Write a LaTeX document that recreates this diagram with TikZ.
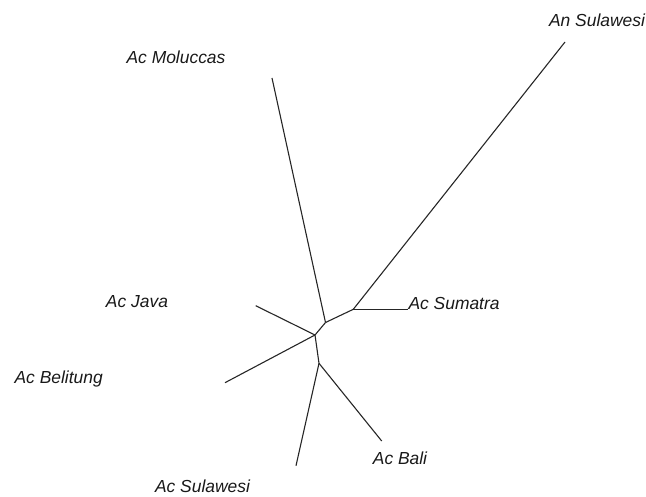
\documentclass[tikz,border=0pt]{standalone}
\usepackage{fontspec}
\setmainfont{Liberation Sans}
\begin{document}
\begin{tikzpicture}[x=1bp,y=-1bp,
  branch/.style={line width=1.1bp, draw=black!85},
  taxon/.style={font=\fontsize{17.5}{20}\selectfont\itshape, inner sep=0pt, text=black!90}]
\useasboundingbox (0,0) rectangle (646,497);
% internal nodes of the unrooted tree
\coordinate (nA) at (325.5,322.5);
\coordinate (nB) at (353.3,309.3);
\coordinate (nC) at (315,335);
\coordinate (nD) at (319,363.3);
% leaf tips
\coordinate (tMol) at (272,78);
\coordinate (tAnS) at (565,42);
\coordinate (tSum) at (407.5,309.3);
\coordinate (tJav) at (255.7,305.7);
\coordinate (tBel) at (225,382.7);
\coordinate (tBal) at (381.7,441);
\coordinate (tSul) at (296,465.7);
% branches
\draw[branch] (nA) -- (tMol);
\draw[branch] (nA) -- (nB);
\draw[branch] (nB) -- (tAnS);
\draw[branch] (nB) -- (tSum);
\draw[branch] (nA) -- (nC);
\draw[branch] (nC) -- (tJav);
\draw[branch] (nC) -- (tBel);
\draw[branch] (nC) -- (nD);
\draw[branch] (nD) -- (tBal);
\draw[branch] (nD) -- (tSul);
% taxon labels
\node[taxon] (lAnS) at (597,20) {An Sulawesi};
\node[taxon] (lMol) at (176,57.5) {Ac Moluccas};
\node[taxon] (lJav) at (137,302) {Ac Java};
\node[taxon, anchor=base west] (lSum) at (408.3,309.3) {Ac Sumatra};
\node[taxon] (lBel) at (58.7,379) {Ac Belitung};
\node[taxon] (lBal) at (400,458.5) {Ac Bali};
\node[taxon] (lSul) at (202.5,486.5) {Ac Sulawesi};
\end{tikzpicture}
\end{document}
